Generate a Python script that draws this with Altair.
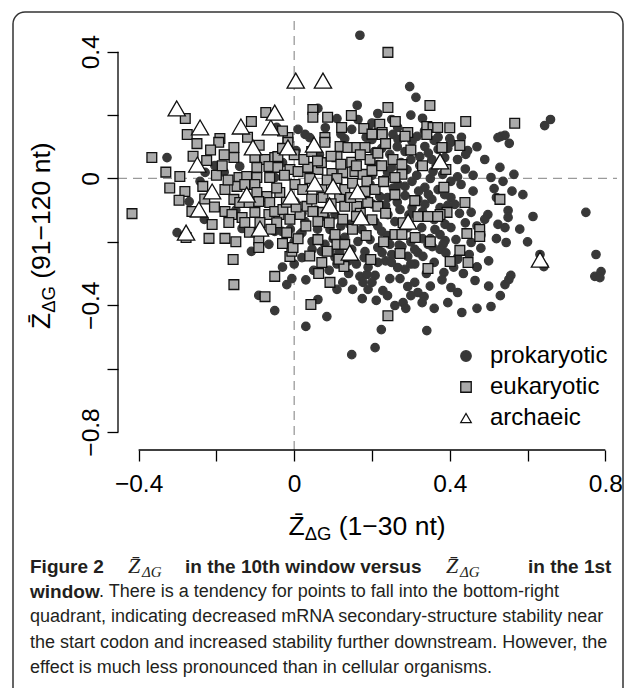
import altair as alt
import pandas as pd

# ---------------- data ----------------
groups = ["prokaryotic", "eukaryotic", "archaeic"]

prok_x = [-0.045, 0.169, 0.297, 0.313, 0.061, 0.162, 0.110, 0.251, 0.266, 0.164, 0.148, 0.010, 0.028, 0.040,
          0.254, 0.316, 0.659, 0.644, 0.532, 0.542, 0.524, 0.400, 0.403, 0.446, 0.441, 0.553, 0.529, 0.565,
          0.506, 0.537, 0.403, 0.429, 0.514, 0.588, 0.403, 0.413, 0.550, 0.455, 0.498, 0.614, 0.750, 0.490,
          0.550, 0.524, 0.542, 0.388, 0.403, 0.388, 0.416, 0.455, 0.545, 0.776, 0.375, 0.383, 0.385, 0.403,
          0.465, 0.395, 0.431, 0.470, 0.506, 0.542, 0.552, 0.557, 0.632, 0.642, 0.773, 0.789, 0.786, -0.091,
          -0.050, -0.327, -0.204, -0.140, -0.229, -0.242, -0.270, -0.231, -0.134, -0.050, -0.301, -0.065,
          -0.019, -0.006, 0.092, 0.105, 0.125, 0.169, 0.187, 0.208, 0.177, 0.200, 0.215, 0.226, 0.251, 0.292,
          0.318, 0.331, 0.266, 0.285, 0.246, 0.272, 0.228, 0.292, 0.310, 0.318, 0.334, 0.329, 0.175, 0.211,
          0.259, 0.280, 0.287, 0.061, 0.084, 0.030, 0.224, 0.341, 0.208, 0.148,
          0.200, 0.233, 0.267, 0.303, 0.336, 0.370, 0.207, 0.246, 0.285, 0.323, 0.354, 0.387,
          0.215, 0.251, 0.290, 0.323, 0.357, 0.382, 0.195, 0.233, 0.267, 0.303, 0.336, 0.370, 0.220, 0.285,
          0.318, 0.354, 0.387,
          0.105, 0.143, 0.174, 0.207, 0.241, 0.272, 0.303, 0.336, 0.375, 0.092, 0.130, 0.164, 0.195, 0.225,
          0.259, 0.292, 0.328, 0.362, 0.117, 0.148, 0.182, 0.215, 0.246, 0.277, 0.310, 0.344, 0.375, 0.046,
          0.079, 0.015, 0.028,
          -0.050, -0.032, 0.020, 0.046, 0.002,
          0.005, 0.065, 0.190, 0.215, 0.130, 0.020, 0.050, 0.100, 0.160, 0.240, 0.300, 0.330, 0.360,
          0.000, 0.060, 0.110, 0.140, 0.180, 0.250, 0.350, 0.420, 0.470, 0.310, 0.270, 0.235,
          # denser core
          0.185, 0.225, 0.265, 0.300, 0.345, 0.395, 0.420, 0.440, 0.420, 0.460,
          0.200, 0.240, 0.275, 0.315, 0.350, 0.365, 0.255, 0.285, 0.320, 0.345,
          0.200, 0.235, 0.265, 0.295, 0.330, 0.360, 0.395, 0.425, 0.440, 0.470,
          0.180, 0.215, 0.240, 0.275, 0.300, 0.330, 0.355, 0.390, 0.420, 0.450,
          0.480, 0.500, 0.470, 0.435, 0.410, 0.360, 0.340, 0.300, 0.250, 0.190,
          0.140, 0.110, 0.150, 0.190, 0.240, 0.300, 0.350, 0.380, 0.360, 0.420,
          0.055, 0.080, 0.120, 0.020, -0.010, 0.070, 0.030, 0.090, 0.000, -0.030,
          0.080, 0.120, 0.200, 0.280, 0.335, 0.370, 0.430, 0.470, 0.490, 0.460,
          0.520, 0.560, 0.580, 0.600, 0.520, 0.480, 0.500, 0.530,
          -0.180, -0.100, -0.030, -0.150, -0.110]
prok_y = [0.161, 0.452, 0.290, 0.256, 0.221, 0.231, 0.189, 0.186, 0.161, 0.186, 0.155, 0.155, 0.139, 0.129,
          0.139, 0.133, 0.186, 0.167, 0.133, 0.136, 0.129, 0.126, 0.114, 0.088, 0.076, 0.111, 0.035, 0.013,
          0.003, -0.009, -0.009, -0.019, -0.032, -0.051, -0.060, -0.082, -0.101, -0.107, -0.114, -0.120,
          -0.107, -0.129, -0.123, -0.145, -0.155, -0.145, -0.155, -0.196, -0.193, -0.202, -0.202, -0.240,
          -0.177, -0.208, -0.297, -0.344, -0.322, -0.392, -0.423, -0.410, -0.404, -0.335, -0.319, -0.306,
          -0.240, -0.278, -0.309, -0.294, -0.313, -0.369, -0.417, 0.066, 0.041, 0.038, 0.019, -0.009, -0.073,
          -0.129, -0.158, -0.167, -0.171, -0.208, -0.335, -0.316, -0.230, -0.249, -0.328, -0.309, -0.303,
          -0.306, -0.328, -0.328, -0.265, -0.234, -0.240, -0.246, -0.234, -0.246, -0.281, -0.287, -0.316,
          -0.316, -0.354, -0.341, -0.328, -0.360, -0.373, -0.392, -0.379, -0.385, -0.401, -0.392, -0.410,
          -0.382, -0.436, -0.467, -0.477, -0.480, -0.534, -0.556,
          0.123, 0.114, 0.123, 0.117, 0.101, 0.092, 0.085, 0.076, 0.085, 0.069, 0.060, 0.066,
          0.044, 0.035, 0.028, 0.041, 0.022, 0.013, -0.019, -0.003, -0.019, -0.009, -0.028, -0.035, -0.057,
          -0.054, -0.066, -0.066, -0.051,
          -0.114, -0.145, -0.161, -0.136, -0.114, -0.098, -0.092, -0.082, -0.092, -0.161, -0.186, -0.199,
          -0.193, -0.167, -0.136, -0.155, -0.155, -0.161, -0.231, -0.224, -0.231, -0.218, -0.208, -0.215,
          -0.224, -0.208, -0.224, -0.224, -0.208, -0.177, -0.136,
          0.003, -0.167, -0.171, -0.199, -0.073,
          0.088, 0.075, 0.160, 0.205, 0.125, -0.250, -0.290, -0.190, -0.270, -0.060, 0.200, 0.190, 0.120,
          -0.200, -0.160, -0.270, -0.260, -0.250, -0.180, -0.190, -0.250, -0.280, -0.270, -0.210, -0.260,
          # denser core
          0.130, 0.095, 0.100, 0.060, 0.080, 0.095, 0.060, 0.030, 0.005, -0.040,
          0.010, 0.020, 0.050, 0.010, 0.000, 0.040, -0.030, -0.025, -0.040, -0.050,
          -0.080, -0.085, -0.075, -0.115, -0.105, -0.130, -0.085, -0.110, -0.140, -0.150,
          -0.130, -0.150, -0.180, -0.175, -0.200, -0.190, -0.215, -0.235, -0.255, -0.240,
          -0.220, -0.260, -0.280, -0.300, -0.280, -0.265, -0.300, -0.270, -0.265, -0.280,
          -0.300, -0.350, -0.350, -0.350, -0.370, -0.370, -0.340, -0.320, -0.410, -0.360,
          -0.100, -0.120, -0.150, -0.110, -0.160, -0.230, -0.320, -0.290, -0.270, -0.280,
          0.160, 0.140, 0.175, 0.130, 0.150, 0.130, 0.130, 0.100, 0.060, 0.010,
          -0.060, -0.040, -0.160, -0.200, -0.190, -0.180, -0.340, -0.370,
          0.020, 0.090, 0.050, -0.100, -0.230]

euk_x = [-0.280, -0.275, -0.191, -0.073, 0.241, 0.048, 0.048, 0.147, 0.086, 0.241, 0.349, 0.220, 0.226,
         0.292, 0.341, 0.357, 0.122, 0.179, -0.016, 0.079, 0.341, 0.441, 0.567, 0.369, 0.380, 0.426, 0.390,
         0.385, 0.529, 0.439, 0.393, 0.375, 0.444, 0.477, 0.477, 0.426, 0.401, 0.447, -0.194, -0.155, -0.366,
         -0.225, -0.155, -0.101, -0.075, -0.050, -0.096, -0.065, -0.294, -0.142, -0.122, -0.096, -0.063,
         -0.281, -0.178, -0.147, -0.127, -0.101, -0.096, -0.070, -0.296, -0.155, -0.140, -0.116, -0.091,
         -0.063, -0.263, -0.178, -0.160, -0.134, -0.101, -0.065, -0.039, -0.211, -0.168, -0.127, -0.417,
         -0.088, -0.219, -0.178, -0.091, -0.091, -0.278, -0.157, -0.155, -0.050, -0.075, -0.011, -0.006,
         0.071, 0.063, 0.092, 0.128, 0.197, 0.272, 0.344, 0.043, 0.241, -0.016, 0.079, 0.118, 0.138, 0.161,
         0.182, 0.226, 0.285, 0.110, 0.148, 0.195, 0.254, 0.277, -0.042, -0.042, -0.011, 0.010, 0.035, 0.061,
         0.097, 0.125, 0.156, 0.177, 0.187, 0.277, 0.259, -0.037, 0.002, 0.022, 0.071, 0.074, 0.117, 0.130,
         0.182, 0.208, -0.050, -0.029, -0.011, 0.015, 0.033, 0.048, 0.074, 0.130, 0.161, 0.189, 0.215,
         0.259, 0.259, 0.277, 0.311, 0.318, 0.344, 0.369, -0.019, -0.003, 0.061, 0.110, 0.130, 0.061, 0.105,
         0.125,
         # denser core
         -0.030, 0.000, 0.025, 0.045, 0.070, 0.095, 0.120, 0.170, 0.215, 0.235,
         -0.025, 0.040, 0.085, 0.110, 0.150, 0.230, 0.160, 0.200, 0.225, 0.060,
         -0.020, 0.005, 0.045, 0.095, 0.145, 0.170, 0.200, 0.235, 0.090, 0.030,
         -0.045, 0.010, 0.150, 0.185, 0.230, 0.085, -0.030, 0.040, 0.115, 0.160,
         -0.215, -0.250, -0.180, -0.120, -0.090, -0.200, -0.170, -0.230, -0.205, -0.115,
         -0.150, -0.060, -0.235, -0.320, -0.330, -0.260, -0.185, -0.045, -0.030, -0.110,
         0.300, 0.330, 0.310, 0.280, 0.350, 0.400, 0.200, 0.260]
euk_y = [0.189, 0.139, 0.126, 0.208, 0.398, 0.218, 0.193, 0.199, 0.193, 0.224, 0.230, 0.171, 0.145, 0.145,
         0.164, 0.161, 0.161, 0.158, 0.129, 0.129, 0.139, 0.180, 0.174, 0.161, 0.098, 0.104, 0.028, -0.028,
         -0.066, -0.076, -0.107, -0.114, -0.174, -0.161, -0.183, -0.227, -0.262, -0.265, 0.114, 0.098, 0.066,
         0.057, 0.066, 0.066, 0.060, 0.066, 0.035, 0.038, 0.006, 0.003, 0.006, 0.003, 0.003, -0.041, -0.035,
         -0.025, -0.019, -0.019, -0.044, -0.057, -0.069, -0.066, -0.076, -0.076, -0.073, -0.076, -0.104,
         -0.104, -0.114, -0.123, -0.107, -0.114, -0.114, -0.145, -0.139, -0.139, -0.111, -0.139, -0.189,
         -0.189, -0.193, -0.218, -0.186, -0.256, -0.335, -0.309, -0.373, -0.246, -0.230, -0.265, -0.300,
         -0.328, -0.278, -0.256, -0.237, -0.284, -0.398, -0.433, 0.114, 0.114, 0.101, 0.098, 0.098, 0.098,
         0.139, 0.133, 0.069, 0.051, 0.060, 0.060, 0.044, 0.069, 0.035, 0.028, 0.022, 0.035, 0.028, 0.016,
         0.019, 0.022, 0.013, -0.009, 0.013, 0.003, -0.044, -0.019, -0.035, -0.035, -0.060, -0.060, -0.035,
         -0.041, -0.035, -0.104, -0.098, -0.129, -0.114, -0.088, -0.104, -0.107, -0.088, -0.088, -0.076,
         -0.088, -0.051, -0.177, -0.177, -0.186, -0.120, -0.120, -0.120, -0.171, -0.218, -0.193, -0.208,
         -0.208, -0.136, -0.177, -0.129,
         # denser core
         0.095, 0.075, 0.060, 0.085, 0.050, 0.070, 0.045, 0.075, 0.080, 0.110,
         0.010, 0.000, -0.005, 0.000, -0.015, -0.010, 0.040, 0.025, 0.040, 0.055,
         -0.075, -0.090, -0.065, -0.080, -0.060, -0.110, -0.130, -0.110, -0.140, -0.150,
         -0.140, -0.190, -0.160, -0.180, -0.200, -0.230, -0.205, -0.245, -0.255, -0.120,
         0.090, 0.110, 0.075, 0.130, 0.105, 0.010, -0.005, -0.065, -0.090, -0.170,
         -0.200, -0.160, -0.025, -0.030, 0.020, 0.070, 0.040, -0.030, 0.150, 0.180,
         0.090, 0.040, -0.070, -0.140, -0.200, 0.160, 0.140, 0.180]

arch_x = [-0.302, -0.242, -0.137, -0.060, -0.050, 0.004, 0.074, -0.106, -0.249, -0.211, -0.122, -0.245,
          -0.088, -0.278, -0.016, 0.051, 0.375, 0.053, 0.100, 0.163, -0.008, 0.091, 0.172, 0.293, 0.143, 0.632]
arch_y = [0.221, 0.161, 0.164, 0.161, 0.208, 0.309, 0.309, 0.098, 0.044, -0.041, -0.051, -0.098, -0.158,
          -0.171, 0.098, 0.107, 0.054, -0.016, -0.025, -0.041, -0.057, -0.085, -0.123, -0.136, -0.234, -0.256]

x_ticks = [-0.4, -0.2, 0.0, 0.2, 0.4, 0.6, 0.8]
y_ticks = [-0.8, -0.6, -0.4, -0.2, 0.0, 0.2, 0.4]

caption_lines = [
    "quadrant, indicating decreased mRNA secondary-structure stability near",
    "the start codon and increased stability further downstream. However, the",
    "effect is much less pronounced than in cellular organisms.",
]

# ---------------- layout ----------------
PL, PT = 118, 21          # plot origin in page pixels
W, H = 499, 429
FONT = "Liberation Sans"
CAP = "Liberation Sans"
SERIF = "Liberation Serif"
CAPCOL = "#231f20"
CAPSIZE = 18
BOLDSIZE = 19
TICKSIZE = 24.5
TITLESIZE = 26.5
SUBSIZE = 18.5

xscale = alt.Scale(domain=[-0.453, 0.830], nice=False, zero=False)
yscale = alt.Scale(domain=[-0.857, 0.497], nice=False, zero=False)

lab_expr = ("abs(datum.value) < 1e-9 ? '0' : "
            "(abs(round(datum.value*10)) % 4 == 0 ? format(datum.value, '.1f') : '')")

xaxis = alt.Axis(values=x_ticks, domain=False, grid=False, tickSize=11, tickWidth=1.3,
                 tickColor="black", labelFontSize=TICKSIZE, labelFont=FONT, labelColor="black",
                 labelPadding=11, labelExpr=lab_expr, title=None, labelOverlap=False,
                 labelFlush=False)
yaxis = alt.Axis(values=y_ticks, domain=False, grid=False, tickSize=11, tickWidth=1.3,
                 tickColor="black", labelFontSize=TICKSIZE, labelFont=FONT, labelColor="black",
                 labelPadding=9, labelExpr=lab_expr, title=None, labelOverlap=False,
                 labelFlush=False, labelAngle=270, labelAlign="center",
                 labelBaseline="alphabetic")

legend = alt.Legend(title=None, orient="none", legendX=336, legendY=323, padding=0,
                    labelFontSize=24, labelFont=FONT, labelColor="black", labelOffset=12,
                    rowPadding=7, symbolStrokeWidth=1.3, symbolOpacity=1, symbolSize=110)

shape_enc = alt.Shape("type:N", scale=alt.Scale(domain=groups, range=["circle", "square", "triangle-up"]),
                      legend=legend)
fill_enc = alt.Fill("type:N", scale=alt.Scale(domain=groups, range=["#383838", "#aaaaaa", "#ffffff"]),
                    legend=legend)
stroke_enc = alt.Stroke("type:N", scale=alt.Scale(domain=groups, range=["#383838", "#111111", "#111111"]),
                        legend=legend)

marker_size = {"prokaryotic": 70, "eukaryotic": 95, "archaeic": 300}

point_layers = []
for g, xs, ys in zip(groups, [prok_x, euk_x, arch_x], [prok_y, euk_y, arch_y]):
    d = pd.DataFrame({"x": xs, "y": ys, "type": g})
    point_layers.append(
        alt.Chart(d).mark_point(filled=True, opacity=1, strokeWidth=1.3, size=marker_size[g]).encode(
            x=alt.X("x:Q", scale=xscale, axis=xaxis),
            y=alt.Y("y:Q", scale=yscale, axis=yaxis),
            shape=shape_enc, fill=fill_enc, stroke=stroke_enc,
        )
    )

# zero reference lines
zx = alt.Chart(pd.DataFrame({"x": [0.0]})).mark_rule(color="#9a9a9a", strokeWidth=1.3,
                                                     strokeDash=[9, 6]).encode(
    x=alt.X("x:Q", scale=xscale, axis=xaxis), y=alt.value(0), y2=alt.value(H))
zy = alt.Chart(pd.DataFrame({"y": [0.0]})).mark_rule(color="#9a9a9a", strokeWidth=1.3,
                                                     strokeDash=[9, 6]).encode(
    y=alt.Y("y:Q", scale=yscale, axis=yaxis), x=alt.value(0), x2=alt.value(W))

# R-style axis lines spanning first to last tick
xline = alt.Chart(pd.DataFrame({"x": [x_ticks[0]], "xe": [x_ticks[-1]]})).mark_rule(
    color="black", strokeWidth=1.3).encode(
    x=alt.X("x:Q", scale=xscale, axis=xaxis), x2="xe:Q", y=alt.value(H))
yline = alt.Chart(pd.DataFrame({"y": [y_ticks[0]], "ye": [y_ticks[-1]]})).mark_rule(
    color="black", strokeWidth=1.3).encode(
    y=alt.Y("y:Q", scale=yscale, axis=yaxis), y2="ye:Q", x=alt.value(0))

# outer rounded frame
frame = alt.Chart(pd.DataFrame({"a": [0]})).mark_rect(
    cornerRadius=12, fillOpacity=0, stroke="#333333", strokeWidth=1.5).encode(
    x=alt.value(13 - PL), x2=alt.value(623 - PL), y=alt.value(12 - PT), y2=alt.value(705 - PT))


def txt(s, px, py, size=22, font=FONT, weight="normal", style="normal", angle=0,
        align="left", baseline="middle", color="black"):
    return alt.Chart(pd.DataFrame({"t": [s]})).mark_text(
        font=font, fontSize=size, fontWeight=weight, fontStyle=style, angle=angle,
        align=align, baseline=baseline, color=color).encode(
        x=alt.value(px - PL), y=alt.value(py - PT), text="t:N")


texts = [
    # x axis title
    txt("Z\u0304", 288.5, 527, size=TITLESIZE),
    txt("\u0394G", 304.7, 534, size=SUBSIZE),
    txt("(1\u221230 nt)", 338.8, 527, size=TITLESIZE),
    # y axis title (rotated)
    txt("Z\u0304", 42, 329, size=TITLESIZE, angle=270),
    txt("\u0394G", 49, 312.8, size=SUBSIZE, angle=270),
    txt("(91\u2212120 nt)", 42, 278.7, size=TITLESIZE, angle=270),
    # caption line 1
    txt("Figure 2", 30, 567, size=BOLDSIZE, font=CAP, weight="bold", color=CAPCOL),
    txt("Z\u0304", 128, 566, size=22, font=SERIF, style="italic", color=CAPCOL),
    txt("\u0394G", 142, 572, size=15, font=SERIF, style="italic", color=CAPCOL),
    txt("in the 10th window versus", 185, 567, size=BOLDSIZE, font=CAP, weight="bold", color=CAPCOL),
    txt("Z\u0304", 446, 566, size=22, font=SERIF, style="italic", color=CAPCOL),
    txt("\u0394G", 460, 572, size=15, font=SERIF, style="italic", color=CAPCOL),
    txt("in the 1st", 528, 567, size=BOLDSIZE, font=CAP, weight="bold", color=CAPCOL),
    # caption line 2
    txt("window", 30, 592, size=BOLDSIZE, font=CAP, weight="bold", color=CAPCOL),
    txt(". There is a tendency for points to fall into the bottom-right", 99, 592, size=CAPSIZE,
        font=CAP, color=CAPCOL),
    # caption lines 3-5
    txt(caption_lines[0], 30, 617, size=CAPSIZE, font=CAP, color=CAPCOL),
    txt(caption_lines[1], 30, 643, size=CAPSIZE, font=CAP, color=CAPCOL),
    txt(caption_lines[2], 30, 668, size=CAPSIZE, font=CAP, color=CAPCOL),
]

chart = alt.layer(frame, zx, zy, xline, yline, *point_layers, *texts).properties(
    width=W, height=H,
    padding={"left": PL, "top": PT, "right": 636 - PL - W, "bottom": 688 - PT - H},
    autosize=alt.AutoSizeParams(type="none"),
).configure_view(strokeWidth=0)

chart.save("out.html", embed_options={"renderer": "svg", "actions": False})
